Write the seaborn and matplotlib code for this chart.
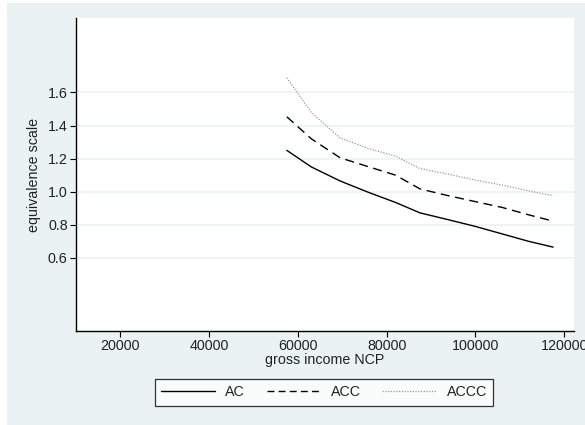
import numpy as np
import pandas as pd
import matplotlib
matplotlib.use("Agg")
import matplotlib.pyplot as plt
import seaborn as sns
from matplotlib.patches import Rectangle

income = [57500, 63000, 69500, 76000, 82000, 87500, 94000, 100000, 106000, 112000, 117500]
ac = [1.25, 1.15, 1.065, 0.995, 0.935, 0.872, 0.83, 0.79, 0.745, 0.70, 0.665]
acc = [1.453, 1.32, 1.205, 1.15, 1.10, 1.017, 0.975, 0.94, 0.905, 0.86, 0.822]
accc = [1.689, 1.48, 1.325, 1.26, 1.215, 1.14, 1.105, 1.07, 1.04, 1.005, 0.976]
series_names = ["AC", "ACC", "ACCC"]
x_ticks = [20000, 40000, 60000, 80000, 100000, 120000]
y_ticks = [0.6, 0.8, 1.0, 1.2, 1.4, 1.6]

df = pd.DataFrame({
    "income": income * 3,
    "scale": ac + acc + accc,
    "series": [series_names[0]] * len(income) + [series_names[1]] * len(income) + [series_names[2]] * len(income),
})

sns.set_style("white")
plt.rcParams["font.family"] = ["Liberation Sans", "DejaVu Sans"]
bg = "#EAF2F3"
fs = 10.3

fig = plt.figure(figsize=(5.85, 4.25), dpi=100, facecolor="white")
fig.patches.append(Rectangle((7 / 585, 0), 1, 1 - 3 / 425, transform=fig.transFigure,
                             facecolor=bg, edgecolor="none", zorder=-10))
ax = fig.add_axes([76 / 585, 1 - 331 / 425, (574 - 76) / 585, (331 - 18) / 425])
ax.set_facecolor("white")

sns.lineplot(data=df, x="income", y="scale", hue="series", style="series",
             palette={"AC": "black", "ACC": "black", "ACCC": "#9a9a9a"},
             dashes={"AC": "", "ACC": (6.5, 4), "ACCC": (1, 1.2)},
             linewidth=1.0, ax=ax, legend=False)
for line, lw in zip(ax.get_lines(), [1.0, 1.0, 0.9]):
    line.set_linewidth(lw)

ax.set_xlim(10000, 122200)
ax.set_ylim(0.158, 2.05)
ax.set_xticks(x_ticks)
ax.set_xticklabels([str(t) for t in x_ticks])
ax.set_yticks(y_ticks)
ax.set_yticklabels([f"{t:.1f}" for t in y_ticks])
ax.yaxis.grid(True, color=bg, linewidth=1.2)
ax.set_axisbelow(True)
for s in ["top", "right"]:
    ax.spines[s].set_visible(False)
for s in ["left", "bottom"]:
    ax.spines[s].set_color("black")
    ax.spines[s].set_linewidth(1.0)
ax.tick_params(axis="both", direction="out", length=4, width=0.8, color="black",
               labelsize=fs, labelcolor="#222222", pad=2, bottom=True, left=True)
ax.set_xlabel("gross income NCP", fontsize=fs, color="#222222", labelpad=0)
ax.set_ylabel("equivalence scale", fontsize=fs, color="#222222", labelpad=5)

handles = [plt.Line2D([], [], color="black", lw=1.0),
           plt.Line2D([], [], color="black", lw=1.0, dashes=(5, 3)),
           plt.Line2D([], [], color="#9a9a9a", lw=0.9, dashes=(1, 1.2))]
leg = fig.legend(handles, series_names, loc="center", bbox_to_anchor=(324 / 585, 1 - 392.5 / 425),
                 ncol=3, frameon=True, fancybox=False, fontsize=fs, handlelength=3.8,
                 columnspacing=1.5, handletextpad=0.7, borderpad=0.45, borderaxespad=0)
leg.get_frame().set_edgecolor("black")
leg.get_frame().set_linewidth(0.9)
leg.get_frame().set_facecolor("white")
for t in leg.get_texts():
    t.set_color("#222222")

fig.savefig("out.png", dpi=100, facecolor=fig.get_facecolor())
